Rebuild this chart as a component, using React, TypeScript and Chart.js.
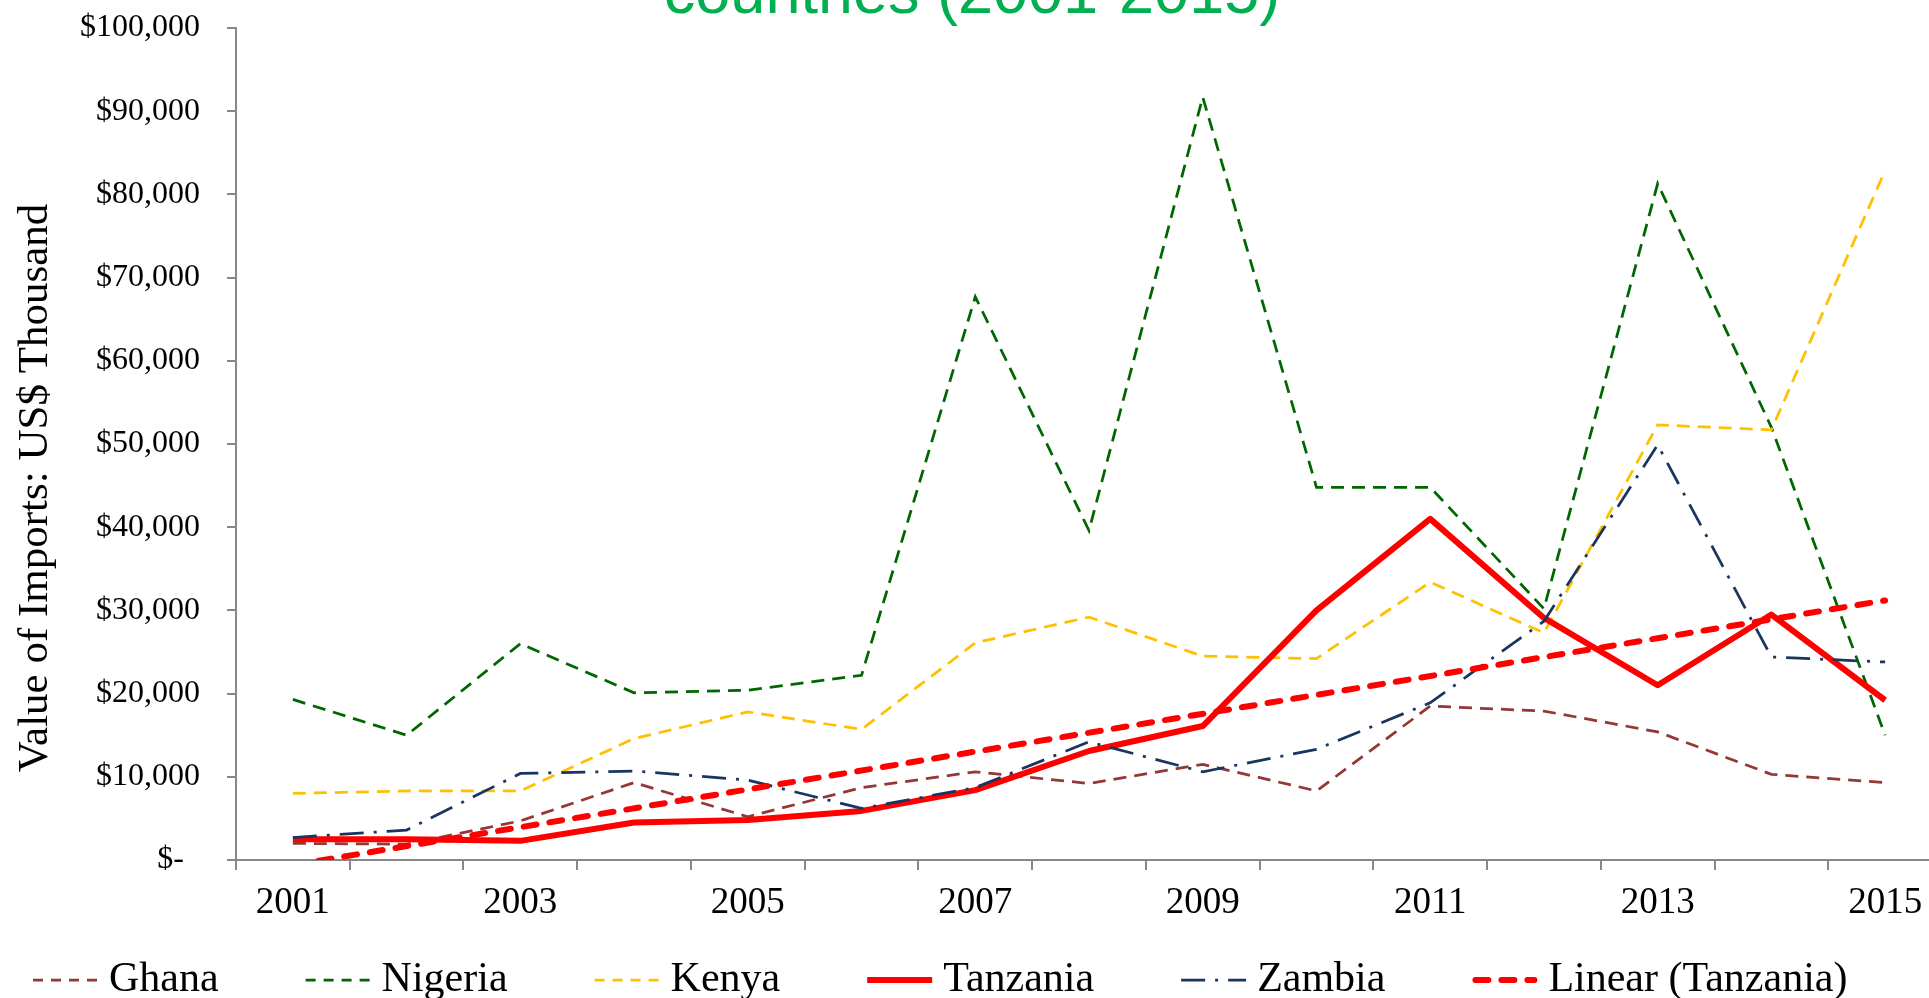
import React, { useEffect, useRef } from 'react';
import { Chart, registerables } from 'chart.js';

Chart.register(...registerables);

// ---- data (US$ thousand) ----
const years = ['2001', '2002', '2003', '2004', '2005', '2006', '2007', '2008', '2009', '2010', '2011', '2012', '2013', '2014', '2015'];
const ghana = [2000, 1900, 4700, 9300, 5200, 8700, 10600, 9200, 11500, 8300, 18500, 17900, 15400, 10300, 9300];
const nigeria = [19300, 15000, 26000, 20100, 20400, 22200, 67700, 39600, 91700, 44800, 44800, 30200, 81300, 52000, 15000];
const kenya = [8000, 8300, 8300, 14600, 17800, 15700, 26100, 29200, 24500, 24200, 33400, 27300, 52300, 51700, 82900];
const tanzania = [2500, 2500, 2300, 4500, 4800, 5900, 8400, 13100, 16100, 30000, 41000, 29100, 21000, 29500, 19200];
const zambia = [2700, 3600, 10400, 10700, 9600, 6200, 8700, 14200, 10600, 13300, 18900, 28700, 49900, 24400, 23800];
// Linear trendline of Tanzania, values read at 2001 and 2015
const trendEnds = [-600, 31200];

const seriesNames = ['Ghana', 'Nigeria', 'Kenya', 'Tanzania', 'Zambia', 'Linear (Tanzania)'];
const titleText = 'countries (2001-2015)';
const yAxisTitle = 'Value of Imports: US$ Thousand';
const yMin = 0;
const yMax = 100000;
const yStep = 10000;

const CW = 1950;
const CH = 998;
const SERIF = '"Liberation Serif", "Times New Roman", serif';
const SANS = '"Liberation Sans", Arial, sans-serif';

export default function App() {
  const ref = useRef<HTMLCanvasElement | null>(null);

  useEffect(() => {
    const canvas = ref.current;
    if (!canvas) return;
    const last = years.length - 1;
    const trend = years.map((_, i) => (i === 0 ? trendEnds[0] : i === last ? trendEnds[1] : null));
    const thin = 2.75;
    const dashThin = [13, 8];

    const base: any[] = [
      { label: seriesNames[0], data: ghana, borderColor: '#953735', borderWidth: thin, borderDash: dashThin, order: 5 },
      { label: seriesNames[1], data: nigeria, borderColor: '#006600', borderWidth: thin, borderDash: dashThin, order: 4 },
      { label: seriesNames[2], data: kenya, borderColor: '#FFC000', borderWidth: thin, borderDash: dashThin, order: 3 },
      { label: seriesNames[3], data: tanzania, borderColor: '#FF0000', borderWidth: 6, borderDash: [], order: 2, borderJoinStyle: 'round' },
      { label: seriesNames[4], data: zambia, borderColor: '#1A3560', borderWidth: thin, borderDash: [24, 10, 3, 10], order: 1 },
      { label: seriesNames[5], data: trend, borderColor: '#FF0000', borderWidth: 6, borderDash: [13, 13], borderCapStyle: 'round', spanGaps: true, order: 0 },
    ];
    const datasets = base.map((d) => ({
      ...d,
      backgroundColor: d.borderColor,
      pointRadius: 0,
      pointHoverRadius: 0,
      fill: false,
      tension: 0,
    }));

    const legendDash: number[][] = [[10, 8], [10, 8], [10, 8], [], [24, 10, 3, 10], [13, 13]];

    const decor = {
      id: 'decor',
      afterDraw(chart: any) {
        const ctx = chart.ctx as CanvasRenderingContext2D;
        ctx.save();
        // title (partially cut at the top)
        ctx.fillStyle = '#00B050';
        ctx.font = `63px ${SANS}`;
        ctx.textAlign = 'center';
        ctx.textBaseline = 'alphabetic';
        ctx.fillText(titleText, 972, 13);

        // y axis title
        ctx.save();
        ctx.translate(47, 488);
        ctx.rotate(-Math.PI / 2);
        ctx.fillStyle = '#000';
        ctx.font = `43px ${SERIF}`;
        ctx.textAlign = 'center';
        ctx.textBaseline = 'alphabetic';
        ctx.fillText(yAxisTitle, 0, 0);
        ctx.restore();

        // legend
        let x = 33;
        const y = 980;
        ctx.font = `42px ${SERIF}`;
        ctx.textAlign = 'left';
        ctx.textBaseline = 'middle';
        chart.data.datasets.forEach((ds: any, i: number) => {
          ctx.save();
          ctx.strokeStyle = ds.borderColor;
          ctx.lineWidth = ds.borderWidth;
          ctx.setLineDash(legendDash[i] || []);
          const cap = ds.borderCapStyle === 'round' ? 3 : 0;
          ctx.lineCap = ds.borderCapStyle || 'butt';
          ctx.beginPath();
          ctx.moveTo(x + cap, y);
          ctx.lineTo(x + 65 - cap, y);
          ctx.stroke();
          ctx.restore();
          ctx.fillStyle = '#000';
          ctx.fillText(ds.label, x + 76, y);
          x += 76 + ctx.measureText(ds.label).width + 87;
        });
        ctx.restore();
      },
    };

    const chart = new Chart(canvas, {
      type: 'line',
      data: { labels: years, datasets },
      options: {
        animation: false,
        responsive: false,
        devicePixelRatio: 1,
        events: [],
        layout: { padding: { left: 0, top: 28, right: CW - 1942, bottom: 0 } },
        plugins: {
          legend: { display: false },
          title: { display: false },
          tooltip: { enabled: false },
        },
        scales: {
          x: {
            type: 'category',
            offset: true,
            grid: {
              display: true,
              offset: true,
              drawOnChartArea: false,
              drawTicks: true,
              tickLength: 10,
              color: '#888888',
              lineWidth: 2,
            },
            border: { display: true, color: '#888888', width: 2 },
            ticks: {
              autoSkip: false,
              maxRotation: 0,
              minRotation: 0,
              padding: 11,
              color: '#000',
              font: { family: SERIF, size: 37 },
              callback: (_v: any, idx: number) => (idx % 2 === 0 ? years[idx] : ''),
            },
            afterFit: (scale: any) => {
              scale.height = 138;
              scale.paddingLeft = 0;
              scale.paddingRight = 0;
            },
          },
          y: {
            min: yMin,
            max: yMax,
            grid: {
              display: true,
              drawOnChartArea: false,
              drawTicks: true,
              tickLength: 9,
              color: '#888888',
              lineWidth: 2,
            },
            border: { display: true, color: '#888888', width: 2 },
            ticks: {
              stepSize: yStep,
              padding: 27,
              color: '#000',
              font: { family: SERIF, size: 32 },
              callback: (v: any) => (Number(v) === 0 ? '$-  ' : '$' + Number(v).toLocaleString('en-US')),
            },
            afterFit: (scale: any) => {
              scale.width = 236;
              scale.paddingTop = 0;
              scale.paddingBottom = 0;
            },
          },
        },
      } as any,
      plugins: [decor],
    });

    return () => {
      chart.destroy();
    };
  }, []);

  return (
    <div
      style={{
        position: 'fixed',
        left: 0,
        top: 0,
        width: 1929,
        height: 998,
        overflow: 'hidden',
        background: '#ffffff',
      }}
    >
      <canvas
        ref={ref}
        width={CW}
        height={CH}
        style={{ position: 'absolute', left: 0, top: 0, width: CW, height: CH }}
      />
    </div>
  );
}
